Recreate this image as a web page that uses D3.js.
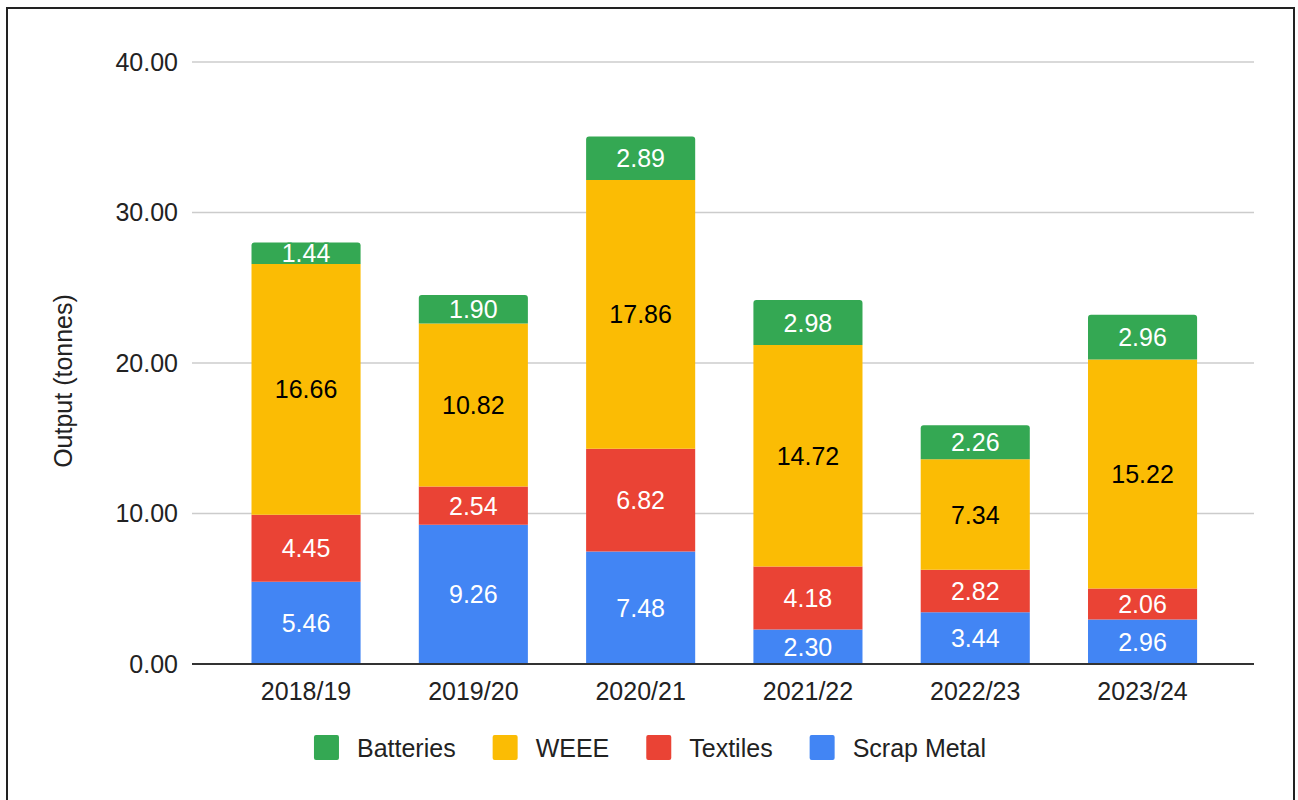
<!DOCTYPE html>
<html>
<head>
<meta charset="utf-8">
<script src="https://cdn.jsdelivr.net/npm/d3@7"></script>
<style>
  html, body { margin: 0; padding: 0; background: #fff; }
  svg { display: block; font-family: "Liberation Sans", Arial, sans-serif; }
</style>
</head>
<body>
<svg id="chart" width="1298" height="800"></svg>
<script>
// Recycled output by financial year, stacked by material (tonnes)
const years = ["2018/19", "2019/20", "2020/21", "2021/22", "2022/23", "2023/24"];
const scrapMetal = [5.46, 9.26, 7.48, 2.30, 3.44, 2.96];
const textiles   = [4.45, 2.54, 6.82, 4.18, 2.82, 2.06];
const weee       = [16.66, 10.82, 17.86, 14.72, 7.34, 15.22];
const batteries  = [1.44, 1.90, 2.89, 2.98, 2.26, 2.96];
const yTicks = [0, 10, 20, 30, 40];

// Stack order bottom → top
const seriesDefs = [
  { name: "Scrap Metal", values: scrapMetal, color: "#4285f4", text: "#ffffff" },
  { name: "Textiles",    values: textiles,   color: "#ea4335", text: "#ffffff" },
  { name: "WEEE",        values: weee,       color: "#fbbc04", text: "#000000" },
  { name: "Batteries",   values: batteries,  color: "#34a853", text: "#ffffff" }
];
// Legend order
const legendOrder = ["Batteries", "WEEE", "Textiles", "Scrap Metal"];

const rows = years.map((y, i) => {
  const r = { year: y };
  seriesDefs.forEach(s => { r[s.name] = s.values[i]; });
  return r;
});

const svg = d3.select("#chart");
const gridLeft = 192, gridRight = 1254;
const fontSize = 25;
const fontFamily = '"Liberation Sans", Arial, sans-serif';

// Frame around the chart
svg.append("rect")
  .attr("x", 7).attr("y", 8).attr("width", 1287).attr("height", 820)
  .attr("fill", "none").attr("stroke", "#222").attr("stroke-width", 2);

const x = d3.scaleBand().domain(years).range([222.4, 1226.2])
  .paddingInner(0.348).paddingOuter(0.174);
const y = d3.scaleLinear().domain([0, 40]).range([664, 62]);

// Gridlines
svg.append("g").selectAll("line").data(yTicks.filter(t => t > 0)).join("line")
  .attr("x1", gridLeft).attr("x2", gridRight)
  .attr("y1", d => y(d)).attr("y2", d => y(d))
  .attr("stroke", "#cccccc").attr("stroke-width", 1.5);

// Y axis labels
const yAxis = svg.append("g").attr("transform", `translate(${gridLeft - 14},0)`)
  .call(d3.axisLeft(y).tickValues(yTicks).tickFormat(d3.format(".2f")).tickSize(0).tickPadding(0));
yAxis.select(".domain").remove();
yAxis.selectAll("text").attr("font-size", fontSize).attr("font-family", fontFamily)
  .attr("fill", "#222");

// Stacked bars
const stack = d3.stack().keys(seriesDefs.map(s => s.name));
const stacked = stack(rows);
const topIdx = stacked.length - 1;

function segPath(x0, w, yTop, yBot, r) {
  return `M${x0},${yBot} L${x0},${yTop + r} Q${x0},${yTop} ${x0 + r},${yTop} ` +
         `L${x0 + w - r},${yTop} Q${x0 + w},${yTop} ${x0 + w},${yTop + r} L${x0 + w},${yBot} Z`;
}

stacked.forEach((layer, li) => {
  const def = seriesDefs[li];
  svg.append("g").attr("class", "series").selectAll("path").data(layer).join("path")
    .attr("d", d => segPath(x(d.data.year), x.bandwidth(), y(d[1]), y(d[0]), li === topIdx ? 3 : 0))
    .attr("fill", def.color);
});

// Value labels
stacked.forEach((layer, li) => {
  const def = seriesDefs[li];
  svg.append("g").selectAll("text").data(layer).join("text")
    .attr("x", d => x(d.data.year) + x.bandwidth() / 2)
    .attr("y", d => (y(d[0]) + y(d[1])) / 2)
    .attr("text-anchor", "middle")
    .attr("dominant-baseline", "central")
    .attr("font-size", fontSize)
    .attr("fill", def.text)
    .attr("stroke", def.color).attr("stroke-width", 3)
    .attr("paint-order", "stroke")
    .text(d => d3.format(".2f")(d[1] - d[0]));
});

// X axis line and category labels
svg.append("line").attr("x1", gridLeft).attr("x2", gridRight)
  .attr("y1", y(0)).attr("y2", y(0)).attr("stroke", "#333").attr("stroke-width", 2);
const xAxis = svg.append("g").attr("transform", `translate(0,${y(0) + 18})`)
  .call(d3.axisBottom(x).tickSize(0).tickPadding(0));
xAxis.select(".domain").remove();
xAxis.selectAll("text").attr("font-size", fontSize).attr("font-family", fontFamily)
  .attr("fill", "#222");

// Y axis title
svg.append("text")
  .attr("transform", `translate(63,381) rotate(-90)`)
  .attr("text-anchor", "middle").attr("dominant-baseline", "central")
  .attr("font-size", fontSize).attr("fill", "#222")
  .text("Output (tonnes)");

// Legend, centred on the full width
const legend = svg.append("g");
const sw = 25, gapText = 18, gapItem = 37;
const items = legendOrder.map(n => seriesDefs.find(s => s.name === n));
const tmp = legend.selectAll("text.tmp").data(items).join("text")
  .attr("font-size", fontSize).text(d => d.name);
const widths = [];
tmp.each(function () { widths.push(this.getComputedTextLength()); });
tmp.remove();
const total = d3.sum(widths) + items.length * (sw + gapText) + (items.length - 1) * gapItem;
let cx = 650 - total / 2;
items.forEach((it, i) => {
  legend.append("rect").attr("x", cx).attr("y", 735).attr("width", sw).attr("height", sw)
    .attr("rx", 2).attr("fill", it.color);
  legend.append("text").attr("x", cx + sw + gapText).attr("y", 748)
    .attr("dominant-baseline", "central").attr("font-size", fontSize).attr("fill", "#222")
    .text(it.name);
  cx += sw + gapText + widths[i] + gapItem;
});
</script>
</body>
</html>
